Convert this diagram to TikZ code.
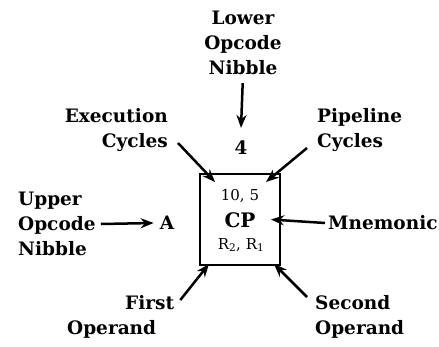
\documentclass[tikz,border=0pt]{standalone}
\usepackage{fontspec}
\newfontfamily\slabfont{DejaVu Serif}
\usetikzlibrary{arrows.meta}
\tikzset{
  labelText/.style={font=\slabfont\fontsize{18.5}{25}\selectfont\bfseries, inner sep=0pt},
  boxText/.style={font=\slabfont\fontsize{15}{18}\selectfont, inner sep=0pt},
  pointerArrow/.style={-{Stealth[length=13pt, width=10pt]}, line width=2.5pt},
  cellBox/.style={draw, line width=2pt, minimum width=80pt, minimum height=91pt, inner sep=0pt}
}
\begin{document}
\begin{tikzpicture}[x=1pt, y=-1pt]
  \useasboundingbox (0,0) rectangle (439,346);

  % --- Caixa central ---
  \node[cellBox] (box) at (240,219.5) {};
  \node[boxText] (cycles) at (240,196) {10, 5};
  \node[boxText, font=\slabfont\fontsize{20}{22}\selectfont\bfseries] (mnem) at (240,220) {CP};
  \node[boxText] (regs) at (241,245) {R\textsubscript{2}, R\textsubscript{1}};

  % --- Rotulos ---
  \node[labelText, align=center] (lower) at (243,43) {Lower\\Opcode\\Nibble};
  \node[labelText] (lowNib) at (241,148) {4};
  \node[labelText, align=right, anchor=east] (exec) at (168,130) {Execution\\Cycles};
  \node[labelText, align=left, anchor=west] (pipe) at (317,130) {Pipeline\\Cycles};
  \node[labelText, align=left, anchor=west] (upper) at (18,224) {Upper\\Opcode\\Nibble};
  \node[labelText] (upNib) at (167,223) {A};
  \node[labelText, anchor=west] (mnemonic) at (328,223) {Mnemonic};
  \node[labelText, align=left, anchor=west] (first) at (67,317) {\hspace*{58pt}First\\Operand};
  \node[labelText, align=left, anchor=west] (second) at (315,317) {Second\\Operand};

  % --- Setas ---
  \draw[pointerArrow, shorten <=8pt] (lower.south) -- ([yshift=13pt]lowNib.north);
  \draw[pointerArrow] ([shift={(10pt,-13pt)}]exec.east) -- ([shift={(16pt,-9pt)}]box.north west);
  \draw[pointerArrow] ([shift={(-10pt,-18pt)}]pipe.west) -- ([shift={(-15pt,-9pt)}]box.north east);
  \draw[pointerArrow] ([xshift=5pt]upper.east) -- ([xshift=-6pt]upNib.west);
  \draw[pointerArrow] ([xshift=-3pt]mnemonic.west) -- ([xshift=-10pt]box.east);
  \draw[pointerArrow] ([shift={(6pt,17pt)}]first.east) -- ([shift={(10pt,2pt)}]box.south west);
  \draw[pointerArrow] ([shift={(-8pt,20pt)}]second.west) -- ([shift={(-7pt,2pt)}]box.south east);
\end{tikzpicture}
\end{document}
